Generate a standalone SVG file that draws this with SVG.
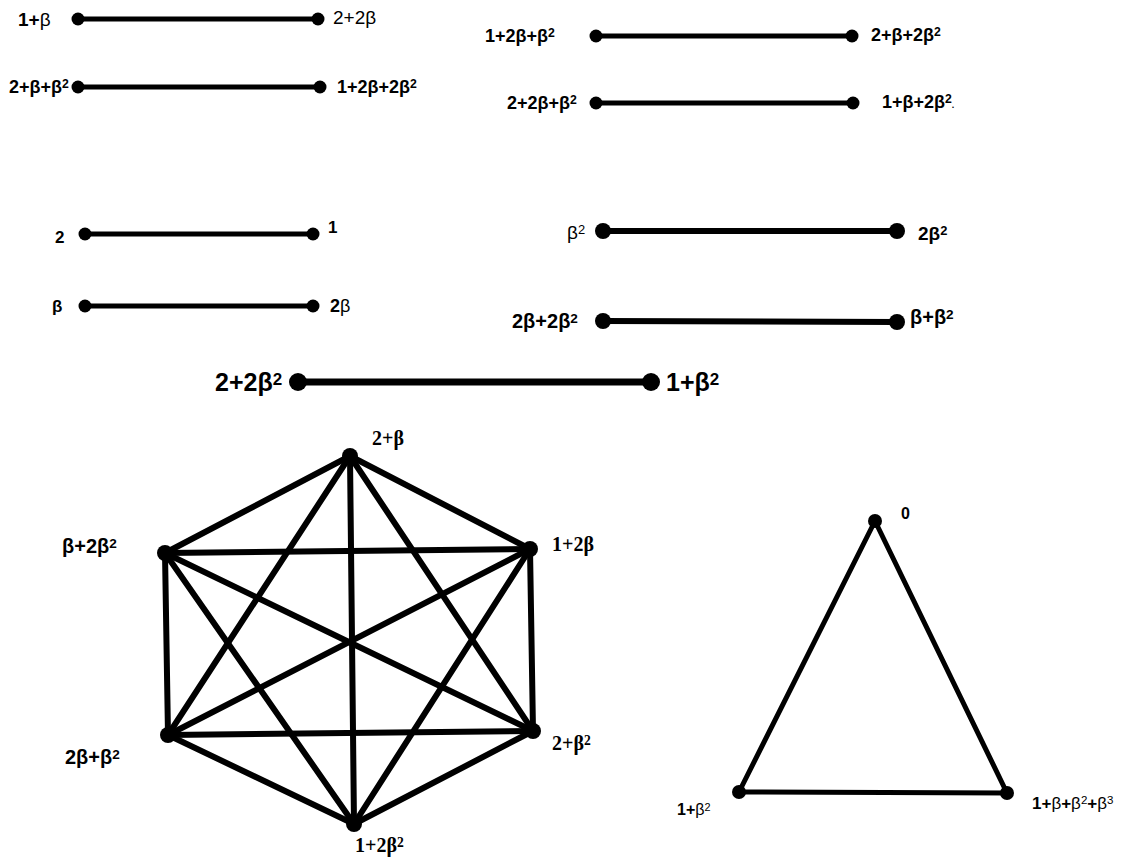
<svg xmlns="http://www.w3.org/2000/svg" width="1122" height="858" viewBox="0 0 1122 858">
<style>
.e{stroke:#000;stroke-linecap:round;fill:none}
.t5{stroke-width:5}
.t6{stroke-width:6}
.t7{stroke-width:7}
.d{fill:#000}
.l{font-family:"Liberation Sans",Arial,sans-serif;font-weight:bold;font-size:18px;fill:#000}
.r{font-family:"Liberation Sans",Arial,sans-serif;font-weight:normal}
.s{font-family:"Liberation Serif","Times New Roman",serif;font-weight:bold;font-size:20px;fill:#000}
.p{font-size:68%;baseline-shift:38%}
</style>
<rect width="1122" height="858" fill="#fff"/>
<g id="connectors">
<line class="e t5" x1="78" y1="19" x2="318" y2="19"/>
<line class="e t5" x1="78" y1="87" x2="320" y2="87"/>
<line class="e t5" x1="596" y1="36" x2="852" y2="36"/>
<line class="e t5" x1="596" y1="103" x2="853" y2="103"/>
<line class="e t5" x1="85" y1="234" x2="313" y2="234"/>
<line class="e t5" x1="85" y1="306" x2="313" y2="306"/>
<line class="e t6" x1="603" y1="231" x2="897" y2="231"/>
<line class="e t6" x1="603" y1="321" x2="897" y2="322"/>
<line class="e t7" x1="298" y1="382" x2="651" y2="382"/>
<g id="hex-edges" class="e t6">
<line x1="350" y1="456" x2="165" y2="553"/>
<line x1="350" y1="456" x2="530" y2="549"/>
<line x1="350" y1="456" x2="168" y2="735"/>
<line x1="350" y1="456" x2="533" y2="731"/>
<line x1="350" y1="456" x2="354" y2="824"/>
<line x1="165" y1="553" x2="530" y2="549"/>
<line x1="165" y1="553" x2="168" y2="735"/>
<line x1="165" y1="553" x2="533" y2="731"/>
<line x1="165" y1="553" x2="354" y2="824"/>
<line x1="530" y1="549" x2="168" y2="735"/>
<line x1="530" y1="549" x2="533" y2="731"/>
<line x1="530" y1="549" x2="354" y2="824"/>
<line x1="168" y1="735" x2="533" y2="731"/>
<line x1="168" y1="735" x2="354" y2="824"/>
<line x1="533" y1="731" x2="354" y2="824"/>
</g>
<g id="tri-edges" class="e t5">
<line x1="875" y1="521" x2="739" y2="792"/>
<line x1="875" y1="521" x2="1007" y2="793"/>
<line x1="739" y1="792" x2="1007" y2="793"/>
</g>
</g>
<g id="n-1pb"><circle class="d" cx="78" cy="19" r="6.5"/><text class="l" x="18" y="26" style="font-size:19px">1+<tspan class="r">β</tspan></text></g>
<g id="n-2p2b"><circle class="d" cx="318" cy="19" r="6.5"/><text class="l r" x="333" y="24" style="font-size:19px">2+2β</text></g>
<g id="n-2pbpb2"><circle class="d" cx="78" cy="87" r="6.5"/><text class="l" x="9" y="93">2+β+β<tspan class="p">2</tspan></text></g>
<g id="n-1p2bp2b2"><circle class="d" cx="320" cy="87" r="6.5"/><text class="l" x="337" y="93">1+2β+2β<tspan class="p">2</tspan></text></g>
<g id="n-1p2bpb2"><circle class="d" cx="596" cy="36" r="6.5"/><text class="l" x="485" y="42">1+2β+β<tspan class="p">2</tspan></text></g>
<g id="n-2pbp2b2"><circle class="d" cx="852" cy="36" r="6.5"/><text class="l" x="871" y="41">2+β+2β<tspan class="p">2</tspan></text></g>
<g id="n-2p2bpb2"><circle class="d" cx="596" cy="103" r="6.5"/><text class="l" x="507" y="109">2+2β+β<tspan class="p">2</tspan></text></g>
<g id="n-1pbp2b2"><circle class="d" cx="853" cy="103" r="6.5"/><text class="l" x="882" y="108">1+β+2β<tspan class="p">2</tspan><tspan style="font-size:9px">.</tspan></text></g>
<g id="n-2"><circle class="d" cx="85" cy="234" r="6.5"/><text class="l" x="55" y="243" style="font-size:17px">2</text></g>
<g id="n-1"><circle class="d" cx="313" cy="234" r="6.5"/><text class="l" x="328" y="233" style="font-size:17px">1</text></g>
<g id="n-b"><circle class="d" cx="85" cy="306" r="6.5"/><text class="l" x="52" y="312" style="font-size:17px">β</text></g>
<g id="n-2b"><circle class="d" cx="313" cy="306" r="6.5"/><text class="l" x="330" y="312" style="font-size:18px">2<tspan class="r">β</tspan></text></g>
<g id="n-b2"><circle class="d" cx="603" cy="231" r="8"/><text class="l r" x="567" y="239" style="font-size:19px">β<tspan class="p">2</tspan></text></g>
<g id="n-2b2"><circle class="d" cx="897" cy="231" r="8"/><text class="l" x="918" y="240" style="font-size:19px">2β<tspan class="p">2</tspan></text></g>
<g id="n-2bp2b2"><circle class="d" cx="603" cy="321" r="8"/><text class="l" x="512" y="328" style="font-size:20px">2β+2β<tspan class="p">2</tspan></text></g>
<g id="n-bpb2"><circle class="d" cx="897" cy="322" r="8"/><text class="l" x="910" y="324" style="font-size:20px">β+β<tspan class="p">2</tspan></text></g>
<g id="n-2p2b2"><circle class="d" cx="298" cy="382" r="9"/><text class="l" x="215" y="391" style="font-size:25px">2+2β<tspan class="p">2</tspan></text></g>
<g id="n-1pb2"><circle class="d" cx="651" cy="382" r="9"/><text class="l" x="666" y="391" style="font-size:25px">1+β<tspan class="p">2</tspan></text></g>
<g id="h-2pb"><circle class="d" cx="350" cy="456" r="8"/><text class="s" x="372" y="445">2+β</text></g>
<g id="h-bp2b2"><circle class="d" cx="165" cy="553" r="8"/><text class="l" x="62" y="553" style="font-size:20px">β+2β<tspan class="p">2</tspan></text></g>
<g id="h-1p2b"><circle class="d" cx="530" cy="549" r="8"/><text class="s" x="552" y="551">1+2β</text></g>
<g id="h-2bpb2"><circle class="d" cx="168" cy="735" r="8"/><text class="l" x="65" y="764" style="font-size:20px">2β+β<tspan class="p">2</tspan></text></g>
<g id="h-2pb2"><circle class="d" cx="533" cy="731" r="8"/><text class="s" x="552" y="750">2+β<tspan class="p">2</tspan></text></g>
<g id="h-1p2b2"><circle class="d" cx="354" cy="824" r="8"/><text class="s" x="355" y="852">1+2β<tspan class="p">2</tspan></text></g>
<g id="t-0"><circle class="d" cx="875" cy="521" r="7"/><text class="l" x="901" y="519" style="font-size:16px">0</text></g>
<g id="t-1pb2"><circle class="d" cx="739" cy="792" r="7"/><text class="l" x="677" y="815" style="font-size:16px">1+<tspan class="r">β<tspan class="p">2</tspan></tspan></text></g>
<g id="t-1pbpb2pb3"><circle class="d" cx="1007" cy="793" r="7"/><text class="l" x="1032" y="809" style="font-size:17px">1+<tspan class="r">β</tspan>+<tspan class="r">β<tspan class="p">2</tspan></tspan>+<tspan class="r">β<tspan class="p">3</tspan></tspan></text></g>
</svg>
